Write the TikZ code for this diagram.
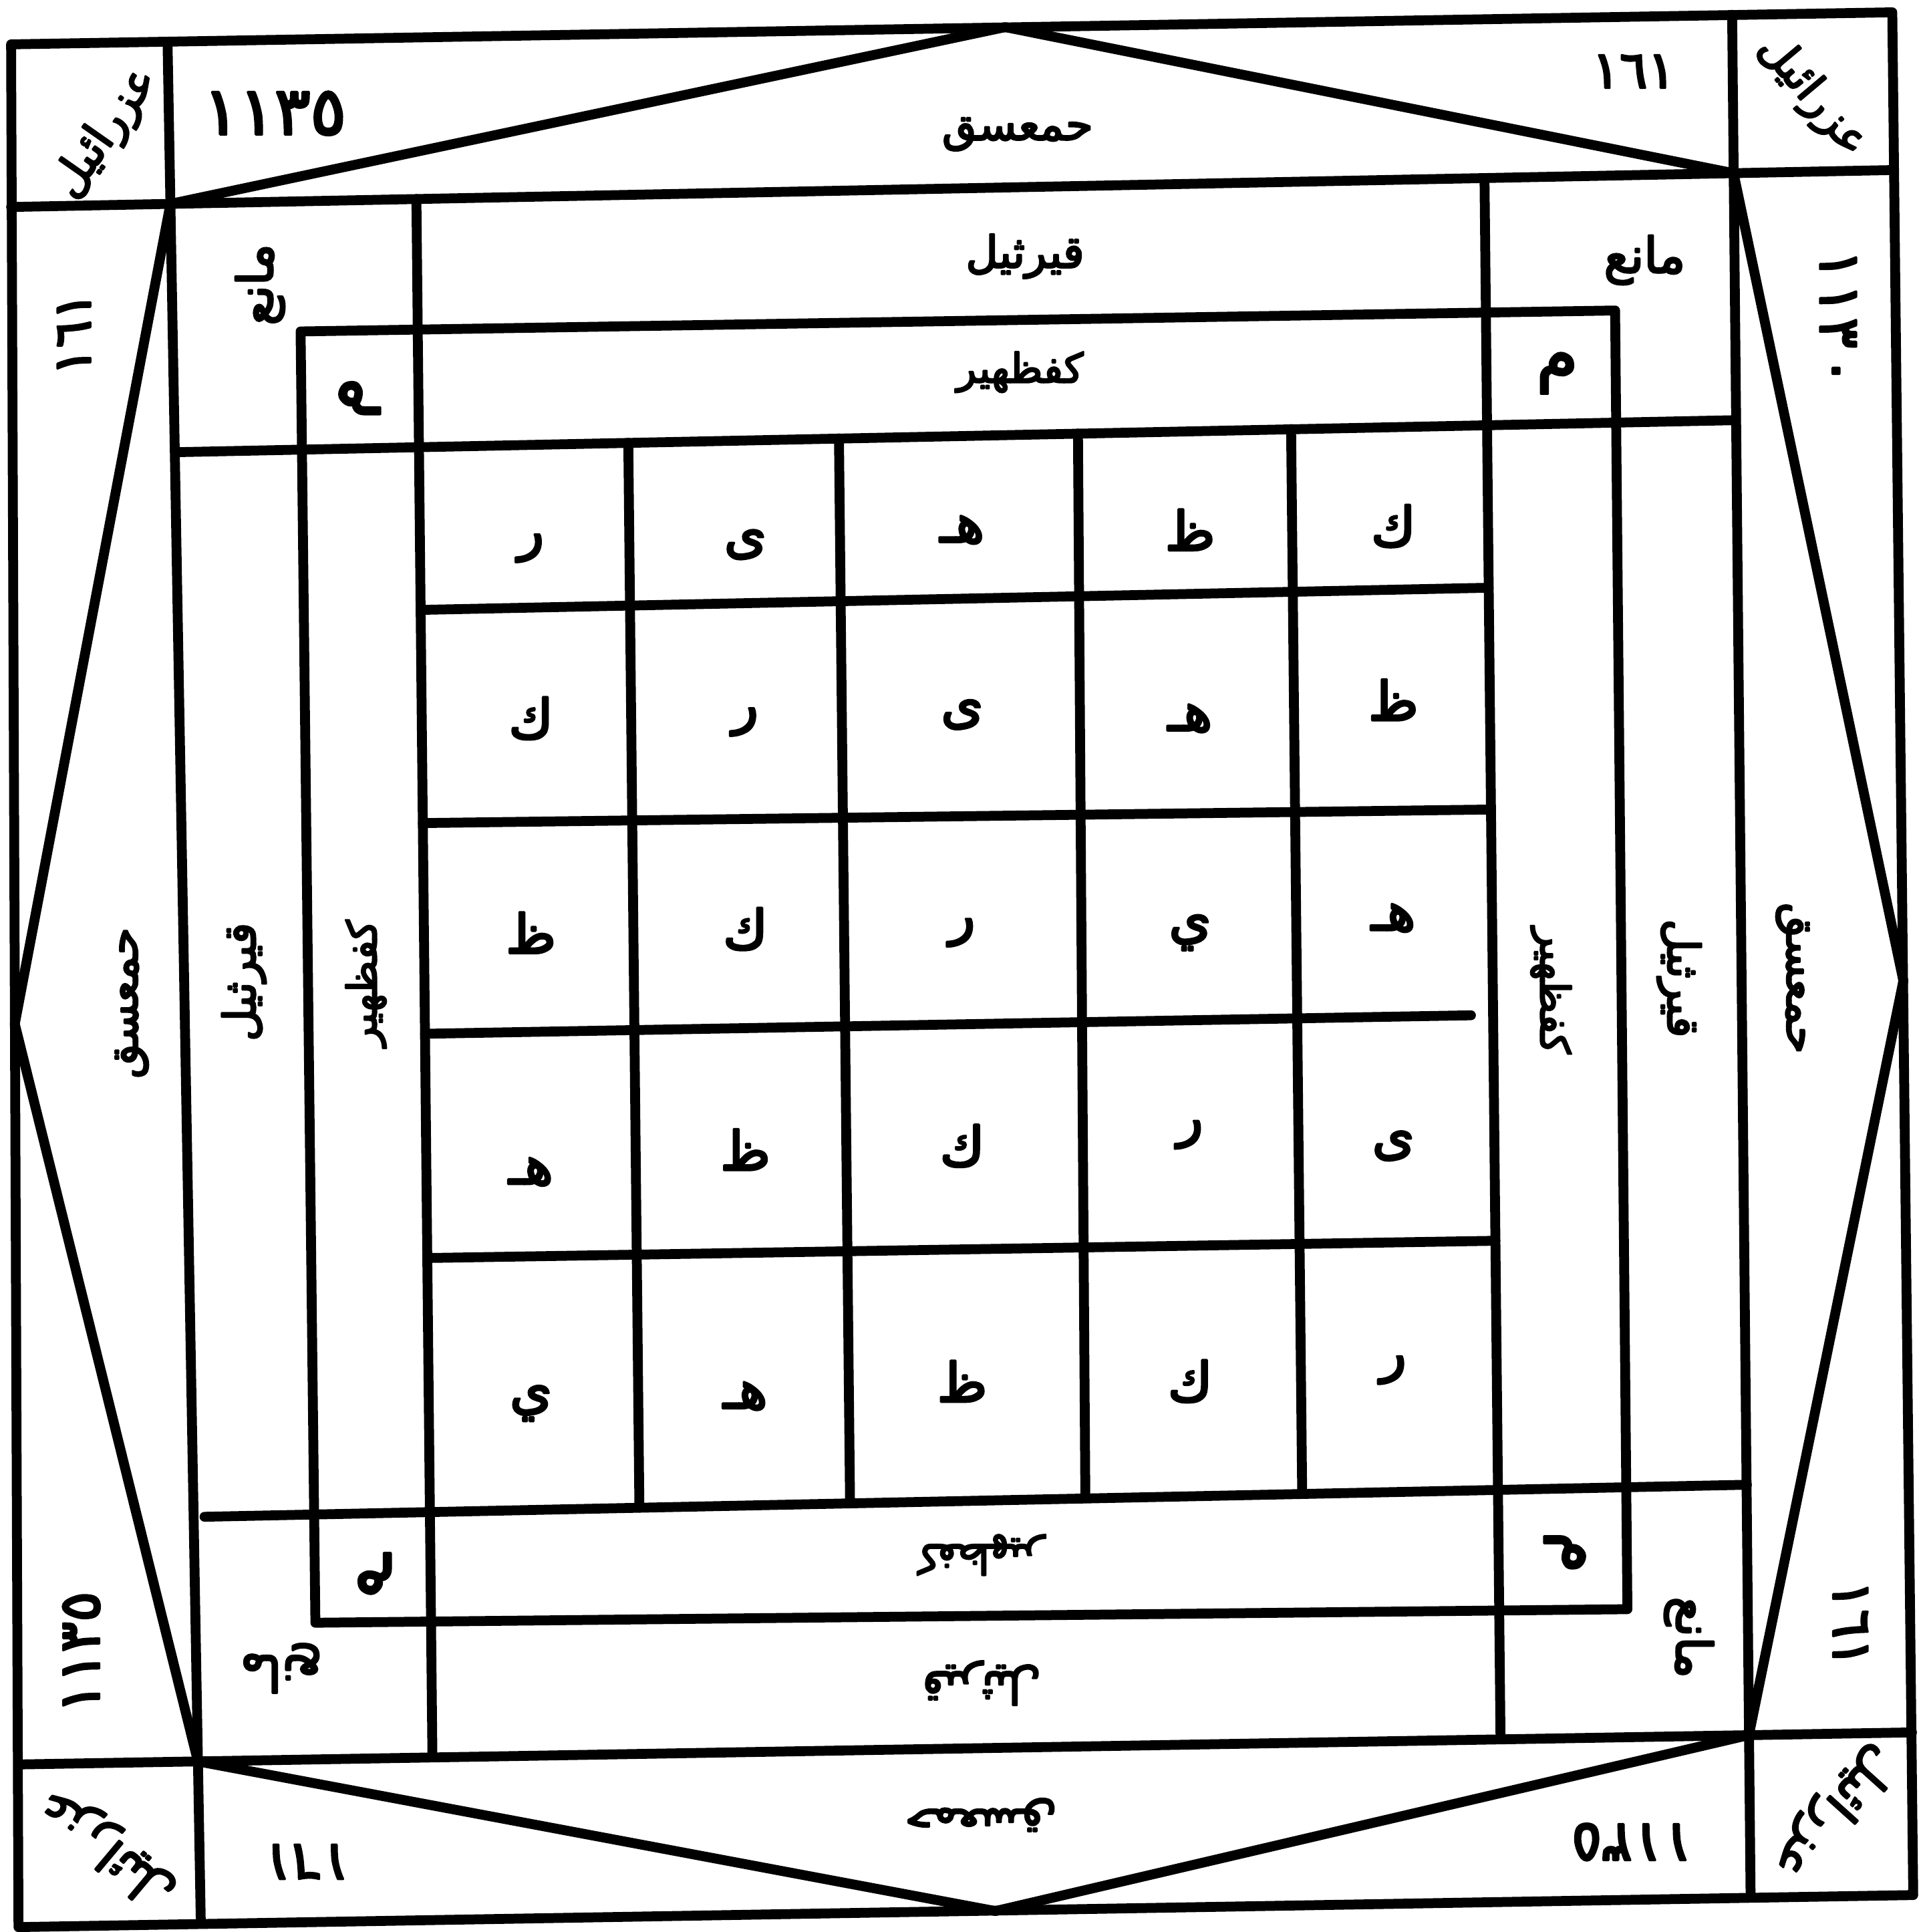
\documentclass[tikz,border=0pt]{standalone}
\usepackage{fontspec}
\newfontfamily\arfont[Script=Arabic,FakeBold=4]{DejaVu Sans}
\TeXXeTstate=1
\newcommand{\fsz}[1]{\fontsize{#1}{#1}\selectfont}
\begin{document}
\begin{tikzpicture}[x=1pt,y=-1pt,line join=round,line cap=round,
  ln/.style={line width=8pt},
  txt/.style={inner sep=0pt},
  grd/.style={txt,font=\arfont\fsz{44}},
  band/.style={txt,font=\arfont\fsz{36}},
  num/.style={txt,font=\arfont\fsz{46}},
  sml/.style={txt,font=\arfont\fsz{40}},
  cel/.style={txt,font=\arfont\fsz{54}},
  ang/.style={txt,font=\arfont\fsz{40}}]
\useasboundingbox (0,0) rectangle (1559,1568);
% ---------- named points ----------
\coordinate (OTL) at (9,36);
\coordinate (OTR) at (1536,10);
\coordinate (OBR) at (1553,1538);
\coordinate (OBL) at (15,1564);
\coordinate (V1t) at (136,34);   \coordinate (V1b) at (163,1561);
\coordinate (V2t) at (1406,12);  \coordinate (V2b) at (1421,1540);
\coordinate (H1l) at (9,168);    \coordinate (H1r) at (1537,138);
\coordinate (H2l) at (15,1432);  \coordinate (H2r) at (1552,1406);
\coordinate (PTL) at (intersection of V1t--V1b and H1l--H1r);
\coordinate (PTR) at (intersection of V2t--V2b and H1l--H1r);
\coordinate (PBR) at (intersection of V2t--V2b and H2l--H2r);
\coordinate (PBL) at (intersection of V1t--V1b and H2l--H2r);
\coordinate (T) at (816,22);
\coordinate (R) at (1545,796);
\coordinate (Bo) at (808,1551);
\coordinate (L) at (12,831);
\coordinate (F1) at (244,269);
\coordinate (F2) at (1311,252);
\coordinate (F3) at (1321,1306);
\coordinate (F4) at (256,1317);
% ---------- frames ----------
\draw[ln] (OTL)--(OTR)--(OBR)--(OBL)--cycle;
\draw[ln] (V1t)--(V1b);
\draw[ln] (V2t)--(V2b);
\draw[ln] (H1l)--(H1r);
\draw[ln] (H2l)--(H2r);
\draw[ln] (L)--(PTL)--(T)--(PTR)--(R)--(PBR)--(Bo)--(PBL)--cycle;
% inner lines
\draw[ln] (143,367) -- (1409,341);
\draw[ln] (166,1231) -- (1418,1205);
\draw[ln] (338,161.5) -- (351,1426);
\draw[ln] (1205,144.5) -- (1218,1411.6);
\draw[ln] (F1)--(F2)--(F3)--(F4)--cycle;
% grid
\draw[ln] (510,359.4)--(519,1223.5);
\draw[ln] (681,355.8)--(690,1219.9);
\draw[ln] (875,351.8)--(881,1216);
\draw[ln] (1048,348.2)--(1057,1212.3);
\draw[ln] (341.4,495)--(1208.4,477);
\draw[ln] (343.2,668)--(1210.3,657);
\draw[ln] (345,839)--(1194,824);
\draw[ln] (346.9,1021)--(1213.9,1007);
% ---------- grid letters ----------
\node[grd] (g11) at (431,445) {\beginR ر\endR};
\node[grd] (g12) at (605,442) {\beginR ى\endR};
\node[grd] (g13) at (781,430) {\beginR هـ\endR};
\node[grd] (g14) at (966,430) {\beginR ظ\endR};
\node[grd] (g15) at (1131,427) {\beginR ك\endR};
\node[grd] (g21) at (431,583) {\beginR ك\endR};
\node[grd] (g22) at (605,586) {\beginR ر\endR};
\node[grd] (g23) at (781,580) {\beginR ى\endR};
\node[grd] (g24) at (966,583) {\beginR هـ\endR};
\node[grd] (g25) at (1131,568) {\beginR ظ\endR};
\node[grd] (g31) at (431,757) {\beginR ظ\endR};
\node[grd] (g32) at (605,754) {\beginR ك\endR};
\node[grd] (g33) at (781,757) {\beginR ر\endR};
\node[grd] (g34) at (966,757) {\beginR ي\endR};
\node[grd] (g35) at (1131,745) {\beginR هـ\endR};
\node[grd] (g41) at (431,951) {\beginR هـ\endR};
\node[grd] (g42) at (605,933) {\beginR ظ\endR};
\node[grd] (g43) at (781,930) {\beginR ك\endR};
\node[grd] (g44) at (966,921) {\beginR ر\endR};
\node[grd] (g45) at (1131,930) {\beginR ى\endR};
\node[grd] (g51) at (431,1139) {\beginR ي\endR};
\node[grd] (g52) at (605,1133) {\beginR هـ\endR};
\node[grd] (g53) at (781,1121) {\beginR ظ\endR};
\node[grd] (g54) at (966,1121) {\beginR ك\endR};
\node[grd] (g55) at (1131,1112) {\beginR ر\endR};
% ---------- band words ----------
\node[band] (t1) at (826,109) {\beginR حمعسق\endR};
\node[band] (t2) at (832,208) {\beginR قيرثيل\endR};
\node[band,font=\arfont\fsz{33}] (t3) at (828,302) {\beginR كفظهير\endR};
\node[band,font=\arfont\fsz{33},rotate=180] (b3) at (796,1262) {\beginR كفظهير\endR};
\node[band,rotate=180] (b2) at (797,1366) {\beginR قيرثيل\endR};
\node[band,rotate=180] (b1) at (796,1473) {\beginR حمعسق\endR};
\node[band,rotate=90] (l1) at (107,814) {\beginR حمعسق\endR};
\node[band,rotate=90] (l2) at (198,797) {\beginR قيرثيل\endR};
\node[band,font=\arfont\fsz{33},rotate=90] (l3) at (297,798) {\beginR كفظهير\endR};
\node[band,font=\arfont\fsz{33},rotate=-90] (r3) at (1259,804) {\beginR كفظهير\endR};
\node[band,rotate=-90] (r2) at (1363,794) {\beginR قيرثيل\endR};
\node[band,rotate=-90] (r1) at (1455,794) {\beginR حمعسق\endR};
% ---------- numbers ----------
\node[num,font=\arfont\fsz{54}] (n1) at (223,92) {١١٣٥};
\node[num,font=\arfont\fsz{42}] (n2) at (1326,58) {١٦١};
\node[num,font=\arfont\fsz{42},rotate=90] (n3) at (60,271) {١٦١};
\node[num,rotate=90] (n4) at (66,1341) {١١٣٥};
\node[num,rotate=-90] (n5) at (1492,258) {١\kern3pt١\kern3pt٣\kern6pt٠};
\node[num,font=\arfont\fsz{44},rotate=-90] (n6) at (1502,1318) {١٦١};
\node[num,font=\arfont\fsz{44},rotate=180] (n7) at (249,1511) {١٦١};
\node[num,rotate=180] (n8) at (1325,1495) {١١٣٥};
% ---------- corner angels ----------
\node[ang,font=\arfont\fsz{37},rotate=55] (a1) at (86,108) {\beginR عزرائيل\endR};
\node[ang,font=\arfont\fsz{36},rotate=-50] (a2) at (1471,78) {\beginR عزرائيل\endR};
\node[ang,rotate=-132] (a3) at (1488,1470) {\beginR عزرائيل\endR};
\node[ang,rotate=140] (a4) at (87,1499) {\beginR عزرائيل\endR};
% ---------- mani ----------
\node[sml,rotate=90] (m1) at (211,231) {\beginR مانع\endR};
\node[sml] (m2) at (1335,211) {\beginR مانع\endR};
\node[sml,rotate=-90] (m3) at (1371,1329) {\beginR مانع\endR};
\node[sml,rotate=180] (m4) at (228,1354) {\beginR مانع\endR};
% ---------- small cells ----------
\node[cel,rotate=90] (c1) at (292,323) {\beginR م\endR};
\node[cel] (c2) at (1264,303) {\beginR م\endR};
\node[cel,rotate=-90] (c3) at (1270,1260) {\beginR م\endR};
\node[cel,rotate=180] (c4) at (304,1277) {\beginR م\endR};
\end{tikzpicture}
\end{document}
